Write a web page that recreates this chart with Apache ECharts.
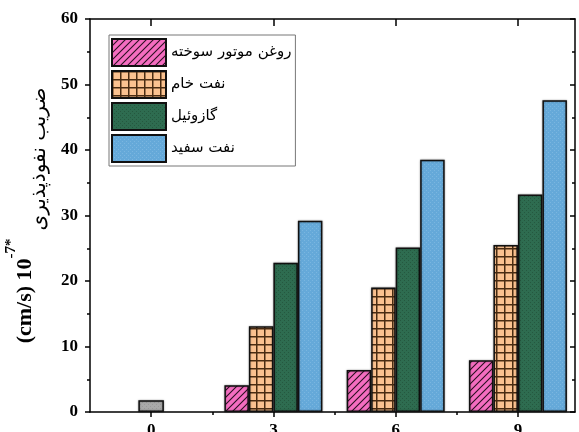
<!DOCTYPE html>
<html>
<head>
<meta charset="utf-8">
<script src="https://cdn.jsdelivr.net/npm/echarts@6/dist/echarts.min.js"></script>
<style>
  html, body { margin: 0; padding: 0; background: #fff; }
  #chart { width: 579px; height: 432px; }
</style>
</head>
<body>
<div id="chart"></div>
<script>
// Exposure time groups on the x axis
const categories = [0, 3, 6, 9];
const minorTickValues = [1.5, 4.5, 7.5];
const seriesNames = ['روغن موتور سوخته', 'نفت خام', 'گازوئیل', 'نفت سفید'];

// Permeability coefficient values (×10^-7 cm/s)
const usedEngineOil = [null, 4.1, 6.4, 7.9];
const crudeOil = [null, 13.1, 19.0, 25.5];
const dieselFuel = [null, 22.8, 25.1, 33.2];
const kerosene = [null, 29.2, 38.5, 47.6];
const control = [1.8, null, null, null];

// Value axis range and ticks
const yMin = 0, yMax = 60, yStep = 10;
const xMin = -1.5, xMax = 10.4;

// Pattern tiles for the bar fills
function tile(size, draw) {
  const c = document.createElement('canvas');
  c.width = size; c.height = size;
  const ctx = c.getContext('2d');
  draw(ctx, size);
  return { image: c, repeat: 'repeat' };
}

const hatchPink = tile(7, (ctx, s) => {
  ctx.fillStyle = '#F46DC0';
  ctx.fillRect(0, 0, s, s);
  ctx.strokeStyle = '#2a1020';
  ctx.lineWidth = 1.1;
  ctx.beginPath();
  ctx.moveTo(-1, s + 1); ctx.lineTo(s + 1, -1);
  ctx.moveTo(-1, 1); ctx.lineTo(1, -1);
  ctx.moveTo(s - 1, s + 1); ctx.lineTo(s + 1, s - 1);
  ctx.stroke();
});

const gridOrange = tile(8, (ctx, s) => {
  ctx.fillStyle = '#FBC290';
  ctx.fillRect(0, 0, s, s);
  ctx.fillStyle = '#4a2c12';
  ctx.fillRect(0, 0, s, 1.5);
  ctx.fillRect(0, 0, 1.5, s);
});

function dotted(base, dot) {
  return tile(4, (ctx, s) => {
    ctx.fillStyle = base;
    ctx.fillRect(0, 0, s, s);
    ctx.fillStyle = dot;
    ctx.fillRect(0, 0, 1, 1);
    ctx.fillRect(2, 2, 1, 1);
  });
}
const texGreen = dotted('#2E6C50', '#25583F');
const texBlue = dotted('#65A9D9', '#7AB6E0');
const texGray = dotted('#A9A9A9', '#999999');

const barStyle = (fill) => ({
  color: fill,
  borderColor: '#111',
  borderWidth: 1.5,
  shadowColor: 'rgba(0,0,0,0.35)',
  shadowBlur: 2
});

function pairs(values) {
  return categories.map((c, i) => [c, values[i]]).filter(d => d[1] != null);
}

function barSeries(name, values, fill, axisIndex, width) {
  return {
    name: name,
    type: 'bar',
    xAxisIndex: axisIndex,
    yAxisIndex: 0,
    barWidth: width,
    barGap: '0%',
    data: pairs(values),
    itemStyle: barStyle(fill),
    emphasis: { disabled: true }
  };
}

const tickLine = { color: '#000', width: 1.5 };
const serif = 'Liberation Serif';

const chart = echarts.init(document.getElementById('chart'), null, { renderer: 'canvas' });
chart.setOption({
  animation: false,
  backgroundColor: '#fff',
  grid: { left: 90, right: 4, top: 19, bottom: 20, containLabel: false, outerBoundsMode: 'none' },
  legend: {
    data: seriesNames,
    orient: 'vertical',
    left: 109,
    top: 35,
    icon: 'rect',
    itemWidth: 54,
    itemHeight: 27,
    itemGap: 3,
    padding: [3, 4, 3, 2],
    borderColor: '#777',
    borderWidth: 1,
    backgroundColor: '#fff',
    textStyle: { fontFamily: 'DejaVu Sans', fontSize: 15, color: '#000' }
  },
  xAxis: [
    {
      type: 'value', position: 'bottom', min: xMin, max: xMax,
      axisLine: { show: true, onZero: false, lineStyle: tickLine },
      axisTick: { show: true, customValues: categories, length: 5, lineStyle: tickLine },
      axisLabel: {
        customValues: categories, margin: 10,
        fontFamily: serif, fontWeight: 'bold', fontSize: 17, color: '#000'
      },
      splitLine: { show: false }
    },
    {
      type: 'value', position: 'bottom', min: xMin, max: xMax,
      axisLine: { show: false },
      axisTick: { show: true, customValues: minorTickValues, length: 3, lineStyle: tickLine },
      axisLabel: { show: false },
      splitLine: { show: false }
    },
    {
      type: 'value', position: 'top', min: xMin, max: xMax,
      axisLine: { show: true, onZero: false, lineStyle: tickLine },
      axisTick: { show: true, inside: true, customValues: categories, length: 7, lineStyle: tickLine },
      axisLabel: { show: false },
      splitLine: { show: false }
    },
    {
      type: 'value', position: 'top', min: xMin, max: xMax,
      axisLine: { show: false },
      axisTick: { show: true, inside: true, customValues: minorTickValues, length: 3, lineStyle: tickLine },
      axisLabel: { show: false },
      splitLine: { show: false }
    }
  ],
  yAxis: [
    {
      type: 'value', position: 'left', min: yMin, max: yMax, interval: yStep,
      axisLine: { show: true, onZero: false, lineStyle: tickLine },
      axisTick: { show: true, length: 5, lineStyle: tickLine },
      minorTick: { show: true, splitNumber: 2, length: 3, lineStyle: tickLine },
      axisLabel: { margin: 12, fontFamily: serif, fontWeight: 'bold', fontSize: 17, color: '#000' },
      splitLine: { show: false },
      name: '{a|(cm/s) 10}{b|-7*}{c|ضریب نفوذپذیری}',
      nameLocation: 'middle',
      nameRotate: 90,
      nameGap: 40,
      nameTextStyle: {
        rich: {
          a: { fontFamily: serif, fontWeight: 'bold', fontSize: 22, color: '#000', lineHeight: 22, verticalAlign: 'top', padding: [10, 0, 0, 0] },
          b: { fontFamily: serif, fontWeight: 'bold', fontSize: 15, color: '#000', lineHeight: 15, verticalAlign: 'top' },
          c: { fontFamily: 'DejaVu Sans', fontSize: 20, color: '#000', lineHeight: 20, verticalAlign: 'top', padding: [26, 0, 0, 8] }
        }
      }
    },
    {
      type: 'value', position: 'right', min: yMin, max: yMax, interval: yStep,
      axisLine: { show: true, onZero: false, lineStyle: tickLine },
      axisTick: { show: true, inside: true, length: 5, lineStyle: tickLine },
      minorTick: { show: true, splitNumber: 2, length: 3, lineStyle: tickLine },
      axisLabel: { show: false },
      splitLine: { show: false }
    }
  ],
  series: [
    barSeries(seriesNames[0], usedEngineOil, hatchPink, 0, 24.5),
    barSeries(seriesNames[1], crudeOil, gridOrange, 0, 24.5),
    barSeries(seriesNames[2], dieselFuel, texGreen, 0, 24.5),
    barSeries(seriesNames[3], kerosene, texBlue, 0, 24.5),
    barSeries('control', control, texGray, 1, 25.5)
  ]
});
</script>
</body>
</html>
